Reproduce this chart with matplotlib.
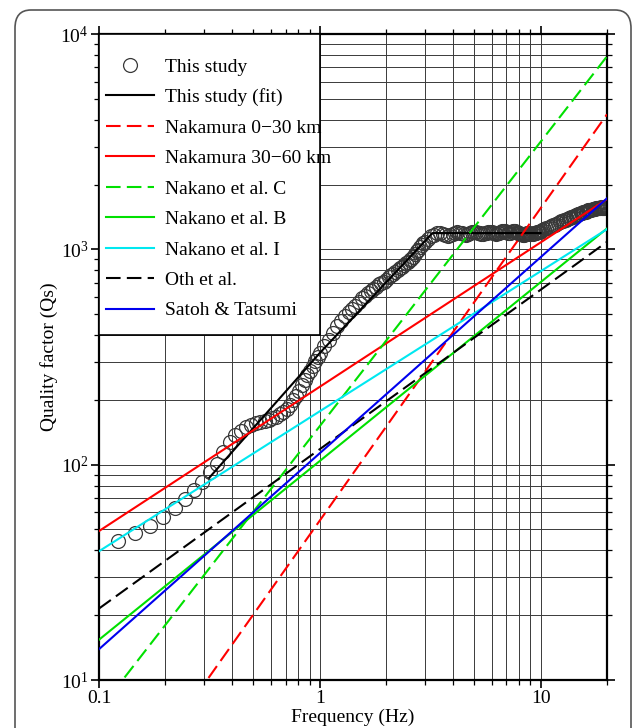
import numpy as np
import matplotlib
matplotlib.use("Agg")
import matplotlib.pyplot as plt
from matplotlib.patches import Rectangle, FancyBboxPatch
from matplotlib.ticker import LogLocator, NullFormatter

plt.rcParams['font.family'] = ['Liberation Serif', 'DejaVu Serif']
plt.rcParams['mathtext.fontset'] = 'custom'
plt.rcParams['mathtext.rm'] = 'Liberation Serif'

# measured Qs (this study)
freq_lo = [0.122, 0.146, 0.171, 0.195, 0.220, 0.244, 0.269, 0.293, 0.317, 0.342,
           0.366, 0.391, 0.415, 0.439, 0.464, 0.488, 0.513, 0.537, 0.562, 0.586,
           0.610, 0.635, 0.659, 0.684, 0.708, 0.732, 0.757, 0.781, 0.806, 0.830,
           0.854, 0.879, 0.903, 0.928, 0.952, 0.977]
qs_lo = [44, 48, 52, 57, 63, 69, 76, 83, 92, 101,
         115, 127, 137, 144, 149, 153, 156, 158, 160, 162,
         164, 167, 171, 176, 182, 190, 199, 209, 221, 234,
         247, 260, 273, 288, 302, 316]

freq_mid = [1.00, 1.05, 1.10, 1.15, 1.20, 1.25, 1.30, 1.35, 1.40, 1.45,
            1.50, 1.55, 1.60, 1.65, 1.70, 1.75, 1.80, 1.85, 1.90, 1.95,
            2.00, 2.05, 2.10, 2.15, 2.20, 2.25, 2.30, 2.35, 2.40, 2.45,
            2.50, 2.55, 2.60, 2.65, 2.70, 2.75, 2.80, 2.85, 2.90, 2.95, 3.00]
qs_mid = [330, 355, 380, 410, 440, 465, 490, 512, 530, 548,
          572, 595, 610, 625, 640, 655, 672, 688, 698, 708,
          722, 740, 756, 772, 786, 800, 815, 830, 845, 860,
          875, 890, 905, 925, 952, 978, 998, 1020, 1045, 1065, 1085]

freq_hi = [3.1, 3.2, 3.3, 3.4, 3.5, 3.6, 3.7, 3.8, 3.9, 4.0,
           4.1, 4.2, 4.3, 4.4, 4.5, 4.6, 4.7, 4.8, 4.9, 5.0,
           5.1, 5.2, 5.3, 5.4, 5.5, 5.6, 5.7, 5.8, 5.9, 6.0,
           6.1, 6.2, 6.3, 6.4, 6.5, 6.6, 6.7, 6.8, 6.9, 7.0,
           7.1, 7.2, 7.3, 7.4, 7.5, 7.6, 7.7, 7.8, 7.9, 8.0,
           8.1, 8.2, 8.3, 8.4, 8.5, 8.6, 8.7, 8.8, 8.9, 9.0,
           9.1, 9.2, 9.3, 9.4, 9.5, 9.6, 9.7, 9.8, 9.9]
qs_hi = [1120, 1150, 1170, 1185, 1195, 1180, 1165, 1150, 1160, 1175,
         1190, 1200, 1195, 1185, 1175, 1170, 1180, 1195, 1205, 1210,
         1200, 1190, 1185, 1180, 1178, 1185, 1195, 1205, 1210, 1205,
         1195, 1185, 1180, 1185, 1195, 1205, 1215, 1220, 1215, 1205,
         1195, 1190, 1195, 1205, 1215, 1220, 1215, 1205, 1195, 1185,
         1180, 1175, 1170, 1170, 1175, 1180, 1185, 1190, 1185, 1180,
         1175, 1180, 1185, 1190, 1195, 1200, 1205, 1210, 1210]

freq_top = [10.0, 10.2, 10.4, 10.6, 10.8, 11.0, 11.2, 11.4, 11.6, 11.8,
            12.0, 12.2, 12.4, 12.6, 12.8, 13.0, 13.2, 13.4, 13.6, 13.8,
            14.0, 14.2, 14.4, 14.6, 14.8, 15.0, 15.2, 15.4, 15.6, 15.8,
            16.0, 16.2, 16.4, 16.6, 16.8, 17.0, 17.2, 17.4, 17.6, 17.8,
            18.0, 18.2, 18.4, 18.6, 18.8, 19.0, 19.2, 19.4, 19.6, 19.8, 20.0]
qs_top = [1215, 1225, 1240, 1250, 1262, 1272, 1285, 1292, 1300, 1312,
          1325, 1338, 1350, 1356, 1362, 1372, 1385, 1398, 1405, 1410,
          1418, 1428, 1440, 1450, 1455, 1460, 1470, 1482, 1490, 1495,
          1498, 1505, 1515, 1522, 1525, 1528, 1532, 1540, 1545, 1548,
          1550, 1552, 1555, 1560, 1565, 1562, 1558, 1560, 1565, 1570, 1572]

freq = freq_lo + freq_mid + freq_hi + freq_top
qs = qs_lo + qs_mid + qs_hi + qs_top

# fitted trend of this study
fit_f = [0.316, 1.0, 3.24, 10.0]
fit_q = [87, 330, 1190, 1190]

# published models Q = Q0 * f^n
models = [
    ("Nakamura 0\u221230 km", 55, 1.45, "red", "dash"),
    ("Nakamura 30\u221260 km", 230, 0.67, "red", "solid"),
    ("Nakano et al. C", 151, 1.32, "#00e000", "dash"),
    ("Nakano et al. B", 104, 0.83, "#00e000", "solid"),
    ("Nakano et al. I", 177, 0.65, "#00e8f0", "solid"),
    ("Oth et al.", 118, 0.74, "black", "dash"),
    ("Satoh & Tatsumi", 113, 0.91, "#0000ee", "solid"),
]

fig = plt.figure(figsize=(6.36, 7.28), dpi=100)
ax = fig.add_axes([99/636, 1-680/728, 508/636, 646/728])

ax.set_xscale("log")
ax.set_yscale("log")
ax.set_xlim(0.1, 20)
ax.set_ylim(10, 1e4)

handles = []
h, = ax.plot(freq, qs, "o", ms=10, mfc="none", mec="#383838", mew=0.9,
             label="This study", zorder=2)
handles.append(h)
h, = ax.plot(fit_f, fit_q, color="black", lw=1.5, label="This study (fit)", zorder=3)
handles.append(h)

fx = np.array([0.1, 20.0])
for name, q0, n, col, ls in models:
    style = (0, (7, 3)) if ls == "dash" else "-"
    h, = ax.plot(fx, q0 * fx**n, color=col, lw=1.5, ls=style, label=name, zorder=3)
    handles.append(h)

# grid
ax.xaxis.set_minor_locator(LogLocator(base=10, subs=np.arange(2, 10)))
ax.yaxis.set_minor_locator(LogLocator(base=10, subs=np.arange(2, 10)))
ax.xaxis.set_minor_formatter(NullFormatter())
ax.set_xticks([0.1, 1, 10], labels=["0.1", "1", "10"])
ax.grid(True, which="both", color="#3a3a3a", lw=0.7)
ax.set_axisbelow(True)

ax.tick_params(which="both", direction="out", top=True, right=True,
               labelsize=14, color="black", pad=1.5)
ax.tick_params(which="major", length=6, width=1.2)
ax.tick_params(which="minor", length=3.5, width=0.9)
for s in ax.spines.values():
    s.set_linewidth(1.6)

ax.set_xlabel("Frequency (Hz)", fontsize=14, labelpad=1)
ax.set_ylabel("Quality factor (Qs)", fontsize=14, labelpad=2)

# legend box
box = Rectangle((0, (680-335)/646), (320-99)/508, 1-(680-335)/646,
                transform=ax.transAxes, facecolor="white", edgecolor="black",
                lw=1.2, zorder=4)
ax.add_patch(box)
leg = ax.legend(handles=handles, loc="upper left", bbox_to_anchor=(0.014, 0.963),
                frameon=False, fontsize=14, handlelength=2.47, handletextpad=0.55,
                labelspacing=0.66, borderpad=0, borderaxespad=0)
leg.set_zorder(5)

# outer frame
frame = FancyBboxPatch((15/636, -0.1), 616/636, 1.1 - 10/728,
                       boxstyle="round,pad=0,rounding_size=0.025",
                       transform=fig.transFigure, fill=False,
                       edgecolor="#555555", lw=1.2, clip_on=False)
fig.patches.append(frame)

fig.savefig("out.png", dpi=100)
